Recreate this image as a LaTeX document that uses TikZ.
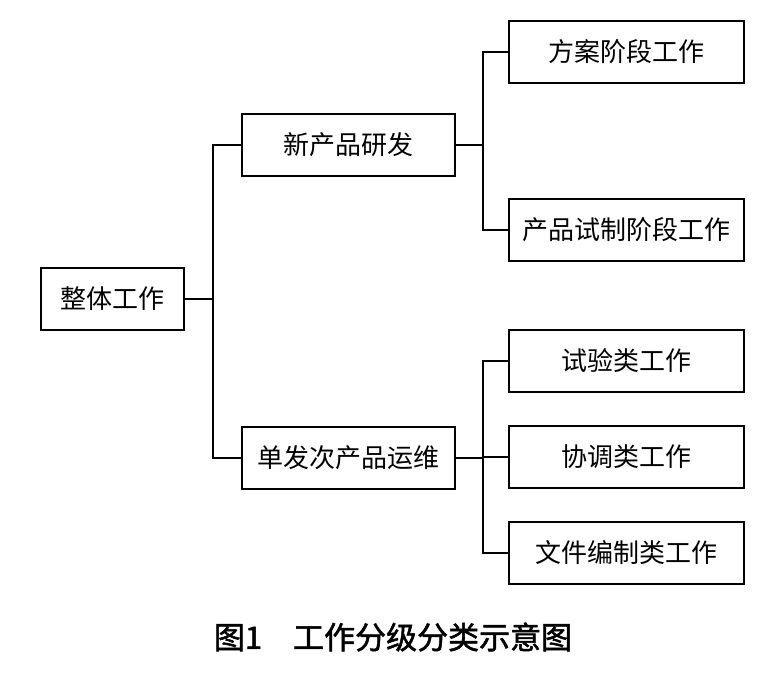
\documentclass[tikz,border=0pt]{standalone}
\usepackage{fontspec}
\setmainfont{Noto Sans CJK SC}
\newfontfamily\cjkcap[FakeBold=1.6]{Noto Sans CJK SC}
\begin{document}
\begin{tikzpicture}[x=1pt,y=-1pt,
  box/.style={draw,line width=2.2pt,minimum height=62pt,inner sep=0pt,font=\fontsize{26}{30}\selectfont},
  conn/.style={line width=2pt}]
\useasboundingbox (0,0) rectangle (780,679);
\node[box,minimum width=143pt] (root) at (112.5,299) {整体工作};
\node[box,minimum width=213pt] (xin) at (348.5,145) {新产品研发};
\node[box,minimum width=213pt] (dan) at (348.5,458) {单发次产品运维};
\node[box,minimum width=235pt] (fa) at (626.5,52) {方案阶段工作};
\node[box,minimum width=235pt] (cp) at (626.5,230) {产品试制阶段工作};
\node[box,minimum width=235pt] (sy) at (626.5,361) {试验类工作};
\node[box,minimum width=235pt] (xt) at (626.5,457) {协调类工作};
\node[box,minimum width=235pt] (wj) at (626.5,553) {文件编制类工作};
\coordinate (j1) at (213,299);
\coordinate (j2) at (483,145);
\coordinate (j3) at (483,458);
\draw[conn] (root.east) -- (j1);
\draw[conn] (j1) |- (xin.west);
\draw[conn] (j1) |- (dan.west);
\draw[conn] (xin.east) -- (j2);
\draw[conn] (j2) |- (fa.west);
\draw[conn] (j2) |- (cp.west);
\draw[conn] (dan.east) -- (j3);
\draw[conn] (j3) |- (sy.west);
\draw[conn] (j3) |- (xt.west);
\draw[conn] (j3) |- (wj.west);
\node[font=\cjkcap\fontsize{31}{35}\selectfont] (cap) at (393,637) {图1\hspace{1em}工作分级分类示意图};
\end{tikzpicture}
\end{document}
